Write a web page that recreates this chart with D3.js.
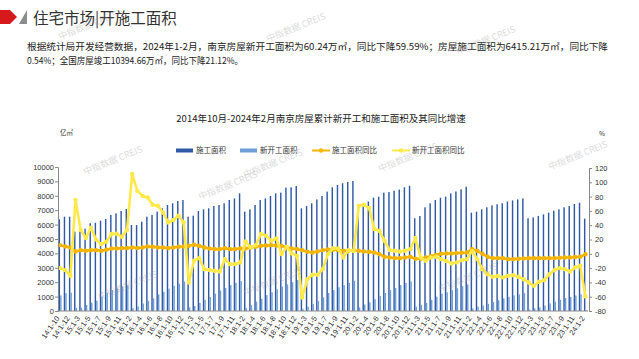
<!DOCTYPE html>
<html>
<head>
<meta charset="utf-8">
<script src="https://cdn.jsdelivr.net/npm/d3@7"></script>
<style>
  body { margin: 0; background: #fff; }
  svg { display: block; font-family: "Noto Sans CJK SC", "Liberation Sans", sans-serif; }
</style>
</head>
<body>
<div id="chart"></div>
<script>
const W = 639;
const H = 359;

// categories (cumulative months)
const categories = [
  "14:1-10", "14:1-11", "14:1-12",
  "15:1-2", "15:1-3", "15:1-4", "15:1-5", "15:1-6", "15:1-7", "15:1-8", "15:1-9", "15:1-10", "15:1-11", "15:1-12",
  "16:1-2", "16:1-3", "16:1-4", "16:1-5", "16:1-6", "16:1-7", "16:1-8", "16:1-9", "16:1-10", "16:1-11", "16:1-12",
  "17:1-2", "17:1-3", "17:1-4", "17:1-5", "17:1-6", "17:1-7", "17:1-8", "17:1-9", "17:1-10", "17:1-11", "17:1-12",
  "18:1-2", "18:1-3", "18:1-4", "18:1-5", "18:1-6", "18:1-7", "18:1-8", "18:1-9", "18:1-10", "18:1-11", "18:1-12",
  "19:1-2", "19:1-3", "19:1-4", "19:1-5", "19:1-6", "19:1-7", "19:1-8", "19:1-9", "19:1-10", "19:1-11", "19:1-12",
  "20:1-2", "20:1-3", "20:1-4", "20:1-5", "20:1-6", "20:1-7", "20:1-8", "20:1-9", "20:1-10", "20:1-11", "20:1-12",
  "21:1-2", "21:1-3", "21:1-4", "21:1-5", "21:1-6", "21:1-7", "21:1-8", "21:1-9", "21:1-10", "21:1-11", "21:1-12",
  "22:1-2", "22:1-3", "22:1-4", "22:1-5", "22:1-6", "22:1-7", "22:1-8", "22:1-9", "22:1-10", "22:1-11", "22:1-12",
  "23:1-2", "23:1-3", "23:1-4", "23:1-5", "23:1-6", "23:1-7", "23:1-8", "23:1-9", "23:1-10", "23:1-11", "23:1-12",
  "24:1-2"
];

// 施工面积
const constructionArea = [
  6370, 6550, 6550,
  5510, 5690, 5720, 6090, 6130, 6270, 6390, 6670, 6780, 6940, 7080,
  5970, 5970, 6200, 6550, 6670, 6900, 7130, 7360, 7480, 7640, 7710,
  6550, 6620, 6940, 7060, 7130, 7290, 7360, 7480, 7710, 7820, 8170,
  6900, 7060, 7360, 7710, 7820, 7990, 8170, 8220, 8570, 8590, 8680,
  7130, 7290, 7480, 7750, 7990, 8290, 8590, 8750, 8870, 8960, 9030,
  7050, 7360, 7600, 7870, 7940, 8220, 8260, 8360, 8430, 8590, 8700,
  6440, 6600, 7200, 7480, 7710, 7870, 7940, 8170, 8300, 8450, 8630,
  6830, 6900, 7060, 7200, 7340, 7410, 7480, 7600, 7680, 7750, 7820,
  6440, 6500, 6600, 6710, 6830, 6970, 7060, 7200, 7290, 7430, 7520,
  6415.21
];

// 新开工面积
const newStartArea = [
  1080, 1230, 1270,
  220, 230, 420, 580, 720, 1000, 1270, 1460, 1570, 1720, 1780,
  200, 320, 520, 700, 880, 1150, 1330, 1550, 1750, 1900, 2050,
  250, 350, 560, 780, 980, 1200, 1420, 1600, 1800, 1950, 2080,
  200, 400, 650, 850, 1100, 1300, 1500, 1700, 1850, 2000, 2150,
  150, 300, 480, 700, 950, 1250, 1450, 1650, 1800, 1950, 2100,
  250, 450, 600, 820, 1050, 1250, 1450, 1600, 1800, 1950, 2050,
  300, 430, 560, 780, 1000, 1200, 1300, 1450, 1580, 1720, 1850,
  180, 300, 380, 500, 620, 750, 880, 980, 1080, 1150, 1250,
  100, 180, 250, 380, 520, 650, 780, 900, 980, 1080, 1150,
  60.24
];

// 施工面积同比 (%)
const constructionYoY = [
  12.1, 10.3, 8.9,
  3.3, 5.1, 4.2, 5.1, 5.1, 4.2, 5.6, 7.5, 7.5, 7.9, 7.9,
  8.9, 7.9, 8.9, 10.3, 9.8, 8.9, 8.9, 7.9, 8.9, 9.8, 10.3,
  11.2, 12.6, 11.2, 8.9, 7.5, 6.5, 6.5, 7.9, 6.5, 6.5, 7.5,
  7.5, 8.9, 9.8, 11.2, 11.7, 12.1, 11.7, 11.2, 8.9, 7.5, 6.5,
  5.1, 2.8, 1.9, 3.3, 5.1, 6.1, 5.6, 5.1, 4.2, 4.2, 4.2,
  4.2, 3.3, 2.8, 1.9, -0.5, -4.2, -5.1, -6.1, -6.1, -5.1, -4.2,
  -7.0, -7.0, -5.1, -3.5, -1.5, 0.0, 0.5, 0.5, 1.0, 1.5, 1.9,
  6.5, 4.2, 0.0, -4.2, -6.1, -6.1, -6.1, -7.5, -7.5, -7.0, -6.5,
  -6.1, -6.1, -6.1, -6.1, -6.1, -6.1, -5.6, -5.1, -5.1, -4.5, -4.2,
  -0.54
];

// 新开工面积同比 (%)
const newStartYoY = [
  -20, -22.8, -30.8,
  75.2, 33.4, 22, 36.4, 19.8, 13.5, 17, 27.6, 28, 23.8, 33.4,
  111.6, 88, 81, 78.9, 68.6, 67.2, 57.8, 43.8, 47.2, 53.2, 43.8,
  -40.2, -9.8, -6.1, -21.5, -22.5, -23.8, -24.8, -7.5, -14.5, -14.5, -12.1,
  17.3, 8.9, 12, 27.6, 25.2, 18.2, 21.4, -0.5, 9.8, 0.5, -2.8,
  -61.2, -35.5, -29.4, -29.4, -21.5, -0.5, 7.9, 7.5, -5.1, 5.1, 4.2,
  67.2, 68.6, 64, 34.6, 32.2, 18.2, 5.1, 4.2, 3.3, 4.2, 6.5,
  22, -5.1, -9.8, -5.1, -4.2, -7.5, -10, -13.5, -12, -9, -7.5,
  4, -7.5, -21.5, -28.5, -32.2, -31, -33, -30.8, -30, -32.2, -35.5,
  -40.2, -44.8, -39, -37, -28.5, -22.8, -20, -21.5, -24.8, -19.2, -16.8,
  -59.59
];

const leftTicks = [0, 1000, 2000, 3000, 4000, 5000, 6000, 7000, 8000, 9000, 10000];
const rightTicks = [-80, -60, -40, -20, 0, 20, 40, 60, 80, 100, 120];

const seriesNames = ["施工面积", "新开工面积", "施工面积同比", "新开工面积同比"];
const colors = ["#2f59a5", "#6d9fd8", "#f5b400", "#ffe94a"];

const headerTitle = "住宅市场|开施工面积";
const paraLine1 = "根据统计局开发经营数据，2024年1-2月，南京房屋新开工面积为60.24万㎡，同比下降59.59%；房屋施工面积为6415.21万㎡，同比下降";
const paraLine2 = "0.54%；全国房屋竣工10394.66万㎡，同比下降21.12%。";
const chartTitle = "2014年10月-2024年2月南京房屋累计新开工和施工面积及其同比增速";

const svg = d3.select("#chart").append("svg")
  .attr("width", W)
  .attr("height", H);

svg.append("rect").attr("width", W).attr("height", H).attr("fill", "#fff");

// header
svg.append("polygon")
  .attr("points", "0,10 10,10 17,17 10,24 0,24")
  .attr("fill", "#d7191c");
svg.append("polygon")
  .attr("points", "27,10 27,24 19,24")
  .attr("fill", "#8c8c8c");
svg.append("text")
  .attr("x", 33).attr("y", 23.5)
  .attr("font-size", 15.5)
  .attr("fill", "#333")
  .text(headerTitle);

// paragraph
svg.append("text")
  .attr("x", 27).attr("y", 49.5)
  .attr("font-size", 9.5)
  .attr("fill", "#222")
  .attr("textLength", 581)
  .attr("lengthAdjust", "spacingAndGlyphs")
  .text(paraLine1);
svg.append("text")
  .attr("x", 27).attr("y", 63.5)
  .attr("font-size", 9.5)
  .attr("fill", "#222")
  .attr("textLength", 216)
  .attr("lengthAdjust", "spacingAndGlyphs")
  .text(paraLine2);

// chart title
svg.append("text")
  .attr("x", 321).attr("y", 122)
  .attr("text-anchor", "middle")
  .attr("font-size", 9.5)
  .attr("fill", "#222")
  .text(chartTitle);

// scales
const x = d3.scaleBand()
  .domain(categories)
  .range([57.5, 588])
  .paddingInner(0.4)
  .paddingOuter(0.2);
const x1 = d3.scaleBand()
  .domain([0, 1])
  .range([0, x.bandwidth()])
  .padding(0.05);
const yL = d3.scaleLinear().domain([0, 10000]).range([311, 167]);
const yR = d3.scaleLinear().domain([-80, 120]).range([311, 168]);
const cx = c => x(c) + x.bandwidth() / 2;

// bars
const plot = svg.append("g");
plot.selectAll(".bar-c")
  .data(categories)
  .join("rect")
  .attr("class", "bar-c")
  .attr("x", c => x(c) + x1(0))
  .attr("width", x1.bandwidth())
  .attr("y", (c, i) => yL(constructionArea[i]))
  .attr("height", (c, i) => yL(0) - yL(constructionArea[i]))
  .attr("fill", colors[0]);
plot.selectAll(".bar-n")
  .data(categories)
  .join("rect")
  .attr("class", "bar-n")
  .attr("x", c => x(c) + x1(1))
  .attr("width", x1.bandwidth())
  .attr("y", (c, i) => yL(newStartArea[i]))
  .attr("height", (c, i) => yL(0) - yL(newStartArea[i]))
  .attr("fill", colors[1]);

// lines
function drawLine(values, color) {
  const line = d3.line()
    .x((d, i) => cx(categories[i]))
    .y(d => yR(d));
  plot.append("path")
    .datum(values)
    .attr("d", line)
    .attr("fill", "none")
    .attr("stroke", color)
    .attr("stroke-width", 2.6)
    .attr("stroke-linejoin", "round");
  plot.append("g").selectAll("circle")
    .data(values)
    .join("circle")
    .attr("cx", (d, i) => cx(categories[i]))
    .attr("cy", d => yR(d))
    .attr("r", 2.2)
    .attr("fill", color);
}
drawLine(constructionYoY, colors[2]);
drawLine(newStartYoY, colors[3]);

// axes
const axisColor = "#8a8a8a";
const gL = svg.append("g")
  .attr("transform", "translate(58,0)")
  .call(d3.axisLeft(yL).tickValues(leftTicks).tickSize(3).tickFormat(d => d));
const gR = svg.append("g")
  .attr("transform", "translate(589,0)")
  .call(d3.axisRight(yR).tickValues(rightTicks).tickSize(3).tickFormat(d => d));
const gX = svg.append("g")
  .attr("transform", "translate(0,311)")
  .call(d3.axisBottom(x).tickValues(categories.filter((c, i) => i % 2 === 0)).tickSize(0));

[gL, gR, gX].forEach(g => {
  g.selectAll("path, line").attr("stroke", axisColor);
  g.selectAll("text")
    .attr("fill", "#333")
    .attr("font-size", 7.5)
    .attr("font-family", "Liberation Sans, sans-serif");
});
gL.selectAll("text").attr("x", -4);
gR.selectAll("text").attr("x", 6);
gX.select(".domain").attr("d", "M57.5,0H588");
gX.selectAll("text")
  .attr("font-size", 7.5)
  .attr("text-anchor", "end")
  .attr("dy", "0.3em")
  .attr("transform", "translate(-2,6) rotate(-55)")
  .attr("y", 0).attr("x", 0);

// units
svg.append("text")
  .attr("x", 60).attr("y", 135)
  .attr("font-size", 6.5).attr("fill", "#333")
  .text("亿㎡");
svg.append("text")
  .attr("x", 599).attr("y", 136)
  .attr("font-size", 6.5).attr("fill", "#333")
  .text("%");

// legend
const legend = svg.append("g").attr("font-size", 7.5).attr("fill", "#333");
const legendX = [176, 240, 312, 392];
seriesNames.forEach((name, i) => {
  const g = legend.append("g").attr("transform", `translate(${legendX[i]},150.5)`);
  if (i < 2) {
    g.append("rect").attr("x", 0).attr("y", -2).attr("width", 17).attr("height", 4).attr("fill", colors[i]);
  } else {
    g.append("line").attr("x1", 0).attr("x2", 18).attr("y1", 0).attr("y2", 0)
      .attr("stroke", colors[i]).attr("stroke-width", 2);
    g.append("circle").attr("cx", 9).attr("cy", 0).attr("r", 2.2).attr("fill", colors[i]);
  }
  g.append("text").attr("x", 20).attr("y", 2.8).attr("fill", "#333").text(name);
});

// watermarks
const marks = [[60, 40], [268, 42], [458, 55], [85, 175], [200, 200], [245, 178], [380, 172], [550, 170], [100, 300], [245, 296], [440, 292]];
svg.append("g").selectAll("text")
  .data(marks)
  .join("text")
  .attr("transform", d => `translate(${d[0]},${d[1]}) rotate(-22)`)
  .attr("font-size", 9)
  .attr("fill", "#9a9a9a")
  .attr("opacity", 0.35)
  .text("中指数据 CREIS");
</script>
</body>
</html>
